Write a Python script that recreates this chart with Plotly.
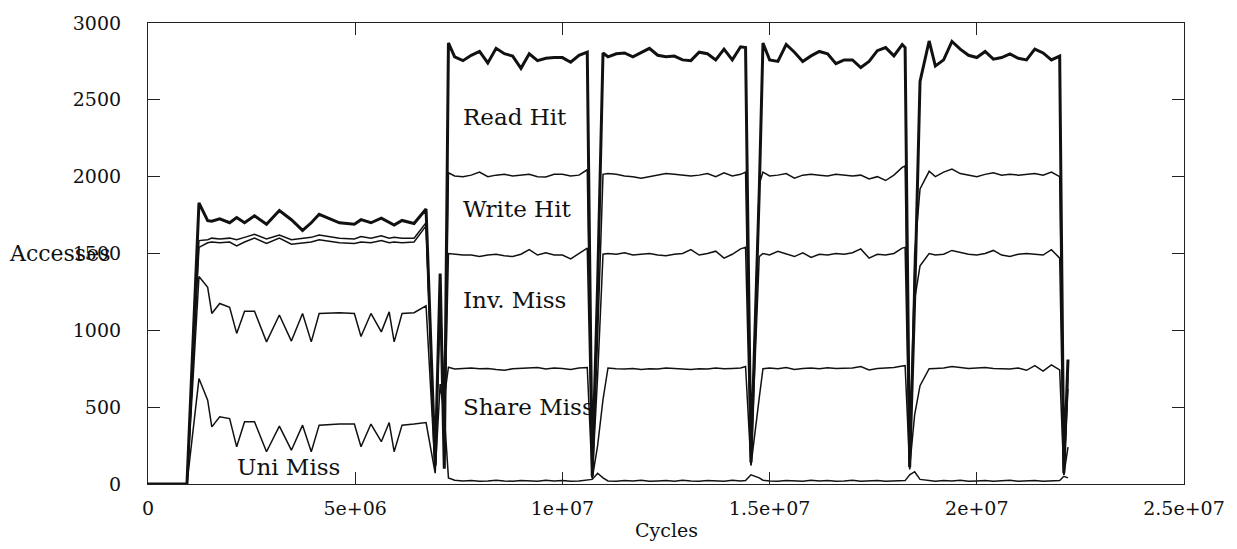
import plotly.graph_objects as go

# Sample times (cycles)
cycles = [
    0, 0.94e6,
    1.23e6, 1.44e6, 1.54e6, 1.73e6, 1.97e6, 2.14e6, 2.33e6, 2.57e6, 2.86e6, 3.17e6,
    3.46e6, 3.73e6, 3.94e6, 4.13e6, 4.62e6, 4.98e6, 5.14e6, 5.38e6, 5.63e6, 5.82e6,
    5.94e6, 6.13e6, 6.42e6, 6.71e6,
    6.93e6, 7.05e6, 7.15e6,
    7.25e6, 7.4e6, 7.6e6, 7.8e6, 8.0e6, 8.2e6, 8.4e6, 8.6e6, 8.8e6, 9.0e6,
    9.2e6, 9.4e6, 9.6e6, 9.8e6, 10.0e6, 10.2e6, 10.4e6, 10.6e6,
    10.72e6, 10.85e6,
    10.98e6, 11.1e6, 11.3e6, 11.5e6, 11.7e6, 11.9e6, 12.1e6, 12.3e6, 12.5e6, 12.7e6,
    12.9e6, 13.1e6, 13.3e6, 13.5e6, 13.7e6, 13.9e6, 14.1e6, 14.3e6, 14.42e6,
    14.55e6, 14.75e6,
    14.84e6, 15.0e6, 15.2e6, 15.4e6, 15.6e6, 15.8e6, 16.0e6, 16.2e6, 16.4e6, 16.6e6,
    16.8e6, 17.0e6, 17.2e6, 17.4e6, 17.6e6, 17.8e6, 18.0e6, 18.2e6, 18.27e6,
    18.38e6, 18.5e6, 18.63e6,
    18.85e6, 19.0e6, 19.2e6, 19.4e6, 19.6e6, 19.8e6, 20.0e6, 20.2e6, 20.4e6, 20.6e6,
    20.8e6, 21.0e6, 21.2e6, 21.4e6, 21.6e6, 21.8e6, 22.0e6,
    22.1e6, 22.2e6,
]

# Cumulative curves as drawn
read_hit = [
    0, 0,
    1830, 1714, 1710, 1725, 1700, 1734, 1700, 1745, 1690, 1780, 1720, 1650, 1700, 1755,
    1700, 1690, 1720, 1700, 1730, 1700, 1685, 1715, 1695, 1790,
    120, 1370, 100,
    2870, 2780, 2755, 2790, 2815, 2740, 2835, 2800, 2785, 2705, 2800, 2755, 2770, 2775,
    2775, 2745, 2790, 2810,
    50, 1300,
    2805, 2780, 2800, 2805, 2780, 2810, 2835, 2790, 2780, 2785, 2760, 2755, 2810, 2800,
    2760, 2830, 2760, 2845, 2840,
    140, 1900,
    2870, 2760, 2750, 2860, 2810, 2750, 2786, 2815, 2800, 2735, 2760, 2760, 2710, 2750,
    2820, 2840, 2786, 2860, 2840,
    110, 1200, 2620,
    2883, 2720, 2760, 2880, 2830, 2790, 2775, 2815, 2765, 2775, 2799, 2770, 2760, 2830,
    2805, 2760, 2785,
    70, 810,
]

write_hit = [
    0, 0,
    1584, 1590, 1600, 1595, 1600, 1590, 1605, 1625, 1595, 1620, 1590, 1600, 1605, 1620,
    1600, 1595, 1610, 1600, 1615, 1600, 1605, 1600, 1600, 1700,
    110, 1340, 150,
    2025, 2005, 2000, 2010, 2030, 2000, 2010, 2015, 2005, 2010, 2015, 2000, 1998, 2015,
    2015, 2005, 2010, 2045,
    45, 950,
    2015, 2020, 2015, 2005, 2000, 1990, 2000, 2010, 2020, 2015, 2010, 2005, 2010, 2020,
    2000, 2025, 2005, 2015, 2030,
    130, 1950,
    2030, 2005, 2010, 2020, 1990, 2010, 2015, 2010, 2005, 2015, 2010, 2005, 2010, 1985,
    2000, 1975, 2010, 2060, 2070,
    100, 1500, 1920,
    2035, 2000, 2030, 2050, 2020, 2010, 2000, 2015, 2025, 2010, 2015, 2010, 2015, 2020,
    2010, 2030, 2000,
    60, 700,
]

inv_miss = [
    0, 0,
    1540, 1570, 1575, 1570, 1575, 1550, 1575, 1600, 1565, 1600, 1560, 1570, 1575, 1590,
    1570, 1565, 1575, 1570, 1585, 1570, 1575, 1570, 1575, 1680,
    100, 1300, 300,
    1500, 1495, 1490, 1490, 1480, 1490, 1495, 1485, 1480, 1495, 1525, 1490, 1505, 1490,
    1490, 1465, 1500, 1535,
    40, 700,
    1495, 1500, 1495, 1505, 1490, 1495, 1500, 1490, 1485, 1495, 1500, 1525, 1490, 1500,
    1515, 1470, 1495, 1530, 1540,
    125, 1480,
    1500, 1490, 1515, 1500, 1480, 1505, 1475, 1495, 1490, 1500, 1495, 1505, 1530, 1470,
    1495, 1490, 1500, 1535, 1540,
    95, 1200, 1420,
    1500, 1490, 1495, 1520, 1505, 1495, 1490, 1500, 1520, 1490, 1480, 1495, 1500, 1495,
    1490, 1525, 1470,
    60, 620,
]

share_miss = [
    0, 0,
    1350, 1280, 1110, 1175, 1150, 980, 1125, 1125, 925, 1100, 930, 1110, 925, 1110,
    1115, 1110, 960, 1110, 990, 1120, 925, 1110, 1115, 1160,
    90, 1200, 560,
    760, 748, 752, 755, 750, 752, 745, 740, 750, 752, 755, 758, 748, 755, 752, 745, 755, 758,
    35, 250,
    550, 755, 750, 748, 752, 745, 750, 748, 755, 752, 750, 745, 750, 748, 755, 750, 752,
    755, 765,
    120, 560,
    750, 755, 750, 758, 745, 752, 755, 750, 757, 752, 752, 755, 765, 742, 752, 755, 758,
    768, 770,
    110, 450, 640,
    750, 752, 755, 765, 760, 752, 755, 758, 752, 748, 748, 755, 740, 770, 735, 775, 742,
    60, 240,
]

uni_miss = [
    0, 0,
    686, 545, 372, 437, 426, 242, 405, 405, 210, 377, 220, 383, 210, 383, 390, 390, 242,
    390, 275, 400, 210, 383, 390, 400,
    70, 650, 450,
    40, 25, 20, 22, 18, 20, 25, 20, 18, 22, 20, 18, 25, 20, 22, 18, 20, 25,
    30, 70,
    40, 20, 18, 22, 20, 25, 18, 20, 22, 18, 25, 20, 18, 22, 20, 18, 25, 20, 22,
    60, 40,
    25, 20, 18, 22, 20, 18, 25, 20, 22, 18, 20, 25, 18, 20, 22, 18, 20, 25, 22,
    60, 80, 30,
    20, 18, 22, 20, 25, 18, 20, 22, 18, 20, 25, 18, 20, 22, 18, 20, 22,
    50, 40,
]

for s in (read_hit, write_hit, inv_miss, share_miss, uni_miss):
    assert len(s) == len(cycles), (len(s), len(cycles))

label_names = ["Read Hit", "Write Hit", "Inv. Miss", "Share Miss", "Uni Miss"]
label_x = [7.55e6, 7.55e6, 7.55e6, 7.55e6, 2.1e6]
label_y = [2390, 1792, 1195, 500, 110]

x_ticks = [0, 5e6, 1e7, 1.5e7, 2e7, 2.5e7]
x_tick_text = ["0", "5e+06", "1e+07", "1.5e+07", "2e+07", "2.5e+07"]
y_ticks = [0, 500, 1000, 1500, 2000, 2500, 3000]

FONT = "DejaVu Serif"
fig = go.Figure()
series = [(uni_miss, 1.5), (share_miss, 1.5), (inv_miss, 1.5), (write_hit, 1.5), (read_hit, 3.0)]
for ys, w in series:
    fig.add_trace(go.Scatter(x=cycles, y=ys, mode="lines",
                             line=dict(color="#111111", width=w), showlegend=False,
                             hoverinfo="skip"))

for name, lx, ly in zip(label_names, label_x, label_y):
    fig.add_annotation(x=lx, y=ly, text=name, showarrow=False, xanchor="left",
                       yanchor="middle", font=dict(family=FONT, size=23, color="#111"))

fig.add_annotation(x=0, xref="paper", xanchor="right", xshift=-36, y=1500, yref="y",
                   yanchor="middle", text="Accesses", showarrow=False,
                   font=dict(family=FONT, size=22, color="#111"))
fig.add_annotation(x=0.5, xref="paper", y=0, yref="paper", yshift=-33, yanchor="top",
                   text="Cycles", showarrow=False, font=dict(family=FONT, size=19, color="#111"))

axis_common = dict(showline=True, linecolor="#222", linewidth=1.2, mirror="ticks",
                   ticks="inside", ticklen=12, tickcolor="#222", showgrid=False,
                   zeroline=False, tickfont=dict(family=FONT, size=19, color="#111"))
fig.update_xaxes(range=[0, 2.5e7], tickvals=x_ticks, ticktext=x_tick_text,
                 ticklabelstandoff=7, **axis_common)
fig.update_yaxes(range=[0, 3000], tickvals=y_ticks, ticklabelstandoff=22, **axis_common)

fig.update_layout(width=1237, height=549, margin=dict(l=148, r=48, t=22, b=65),
                  paper_bgcolor="white", plot_bgcolor="white")
fig.write_html("out.html")
